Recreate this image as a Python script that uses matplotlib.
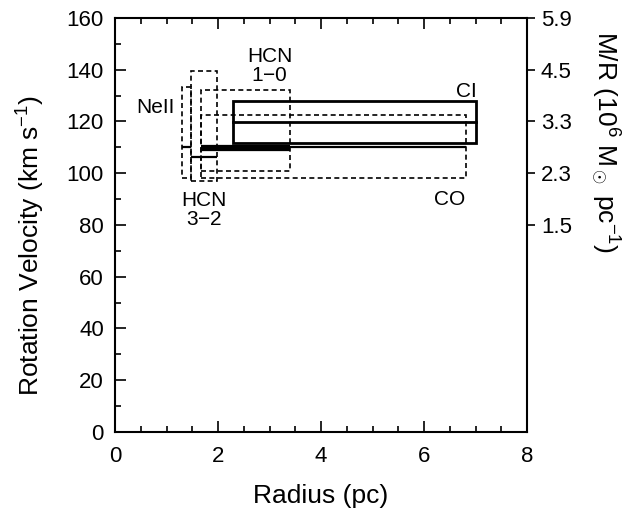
#!/usr/bin/env python3
"""Rotation velocity vs radius: ranges from the different tracers."""

import matplotlib
matplotlib.use("Agg")
import matplotlib.pyplot as plt
from matplotlib.patches import Rectangle

plt.rcParams['font.family'] = ['Liberation Sans', 'DejaVu Sans']
plt.rcParams['mathtext.fontset'] = 'custom'
plt.rcParams['mathtext.rm'] = 'Liberation Sans'
plt.rcParams['mathtext.it'] = 'Liberation Sans'

# dashed uncertainty boxes (radius range x velocity range)
box_names = ['NeII', 'HCN 3-2', 'HCN 1-0', 'CO']
box_r_lo = [1.29, 1.47, 1.67, 1.67]
box_r_hi = [1.47, 1.97, 3.40, 6.81]
box_v_lo = [98.2, 97.1, 101.0, 98.1]
box_v_hi = [133.5, 139.4, 132.2, 122.4]

# solid CI box
ci_r = [2.29, 7.00]
ci_v = [111.8, 127.8]
ci_v_mid = 119.6

# best-estimate velocity segments
seg_names = ['NeII', 'HCN 3-2', 'CO', 'HCN 1-0']
seg_r_lo = [1.29, 1.47, 1.67, 1.67]
seg_r_hi = [1.47, 1.97, 6.81, 3.40]
seg_v = [110.0, 106.2, 110.3, 109.6]
seg_lw = [1.6, 1.6, 1.6, 4.5]

# label text and positions
lab_text = ['NeII', 'HCN\n3$-$2', 'HCN\n1$-$0', 'CI', 'CO']
lab_r = [0.78, 1.73, 3.0, 6.82, 6.5]
lab_v = [125.2, 85.8, 141.4, 131.5, 89.7]

# right axis: M/R = v^2/G
mr_tick_v = [80, 100, 120, 140, 160]
mr_tick_lab = ['1.5', '2.3', '3.3', '4.5', '5.9']

fig = plt.figure(figsize=(6.29, 5.13), dpi=100)
ax = fig.add_axes([0.183, 0.158, 0.655, 0.807])

for r0, r1, v0, v1 in zip(box_r_lo, box_r_hi, box_v_lo, box_v_hi):
    ax.add_patch(Rectangle((r0, v0), r1 - r0, v1 - v0, fill=False,
                           ec='black', lw=1.2, ls=(0, (3, 2))))

ax.add_patch(Rectangle((ci_r[0], ci_v[0]), ci_r[1] - ci_r[0], ci_v[1] - ci_v[0],
                       fill=False, ec='black', lw=2.0))
ax.plot(ci_r, [ci_v_mid, ci_v_mid], color='black', lw=2.0)

for r0, r1, v, lw in zip(seg_r_lo, seg_r_hi, seg_v, seg_lw):
    ax.plot([r0, r1], [v, v], color='black', lw=lw, solid_capstyle='butt')

for t, r, v in zip(lab_text, lab_r, lab_v):
    ax.text(r, v, t, ha='center', va='center', fontsize=15, linespacing=0.95)

ax.set_xlim(0, 8)
ax.set_ylim(0, 160)
ax.set_xticks([0, 2, 4, 6, 8])
ax.set_xticks([x * 0.5 for x in range(17)], minor=True)
ax.set_yticks(range(0, 161, 20))
ax.set_yticks(range(0, 161, 10), minor=True)
ax.tick_params(which='both', direction='in', top=True, right=True,
               labelsize=16, width=1.2)
ax.tick_params(which='major', length=8)
ax.tick_params(axis='x', which='major', pad=10)
ax.tick_params(axis='y', which='major', pad=8)
ax.tick_params(which='minor', length=4)
for s in ax.spines.values():
    s.set_linewidth(1.5)

ax.set_xlabel('Radius (pc)', fontsize=19, labelpad=12)
ax.set_ylabel('Rotation Velocity (km s$^{-1}$)', fontsize=19)
ax.yaxis.set_label_coords(-0.165, 0.45)

ax2 = ax.twinx()
ax2.set_ylim(ax.get_ylim())
ax2.set_yticks(mr_tick_v)
ax2.set_yticklabels(mr_tick_lab)
ax2.tick_params(direction='out', length=6, width=1.2, labelsize=16, pad=4)
for s in ax2.spines.values():
    s.set_visible(False)
ax2.set_ylabel('M/R (10$^6$ M$_\\odot$ pc$^{-1}$)', fontsize=19,
               rotation=270, labelpad=36, y=0.70)

fig.savefig('out.png', dpi=100)
